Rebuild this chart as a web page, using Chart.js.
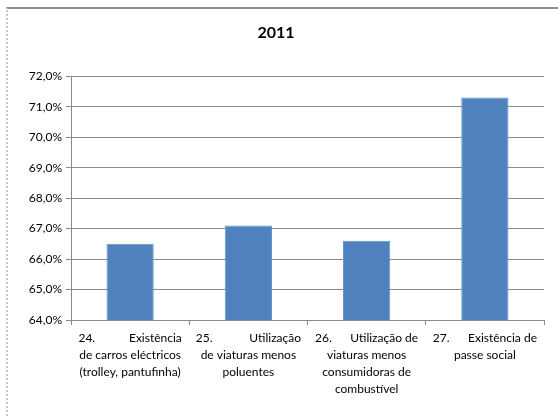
<!DOCTYPE html>
<html>
<head>
<meta charset="utf-8">
<script src="https://cdn.jsdelivr.net/npm/chart.js@4.4.1/dist/chart.umd.min.js"></script>
<style>
  html, body { margin: 0; padding: 0; background: #fff; }
  #wrap { position: relative; width: 558px; height: 416px; }
  #frame {
    position: absolute; left: 6px; top: 7px; right: 0; bottom: 0;
    border-top: 2px solid #8c8c8c; border-left: 2px dotted #c8c8c8;
    pointer-events: none;
  }
  canvas { position: absolute; left: 0; top: 0; }
</style>
</head>
<body>
<div id="wrap">
  <canvas id="c" width="558" height="416"></canvas>
  <div id="frame"></div>
</div>
<script>
// Survey items (each label: first line is "number + first word", justified across the slot)
const itemNumbers = ['24.', '25.', '26.', '27.'];
const itemFirstWords = ['Existência', 'Utilização', 'Utilização de', 'Existência de'];
const itemRestLines = [
  ['de carros eléctricos', '(trolley, pantufinha)'],
  ['de viaturas menos', 'poluentes'],
  ['viaturas menos', 'consumidoras de', 'combustível'],
  ['passe social']
];
const shares = [66.5, 67.1, 66.6, 71.3];
const yTicks = [64, 65, 66, 67, 68, 69, 70, 71, 72];

const FONT_FAMILY = 'Lato, "Open Sans", sans-serif';
const LABEL_SIZE = 12;
const LABEL_FONT = LABEL_SIZE + 'px ' + FONT_FAMILY;

// pad with spaces so "24.   Existência" fills the given width (justified line)
const measureCtx = document.createElement('canvas').getContext('2d');
measureCtx.font = LABEL_FONT;
function justify(left, right, width) {
  let gap = ' ';
  while (measureCtx.measureText(left + gap + ' ' + right).width <= width) gap += ' ';
  return left + gap + right;
}

const labels = itemNumbers.map((n, i) => [justify(n, itemFirstWords[i], 106)].concat(itemRestLines[i]));

const GRID = '#8a8a8a';

new Chart(document.getElementById('c'), {
  type: 'bar',
  data: {
    labels: labels,
    datasets: [{
      data: shares,
      backgroundColor: '#4f81bd',
      borderColor: '#6a95c9',
      borderWidth: 1,
      categoryPercentage: 1,
      barPercentage: 0.4
    }]
  },
  options: {
    responsive: false,
    animation: false,
    layout: { padding: { left: 8, right: 14, top: 0, bottom: 0 } },
    plugins: {
      legend: { display: false },
      tooltip: { enabled: false },
      title: {
        display: true,
        text: '2011',
        color: '#000',
        font: { family: FONT_FAMILY, size: 16, weight: 'bold' },
        padding: { top: 23, bottom: 34 }
      }
    },
    scales: {
      x: {
        grid: { display: true, drawOnChartArea: false, drawTicks: true, tickLength: 5, color: GRID, offset: true },
        border: { display: true, color: GRID, width: 1 },
        ticks: {
          color: '#000',
          font: { family: FONT_FAMILY, size: LABEL_SIZE, lineHeight: 1.4 },
          maxRotation: 0,
          autoSkip: false,
          padding: 5
        },
        afterFit: (s) => { s.height = 96; }
      },
      y: {
        min: 64,
        max: 72,
        afterBuildTicks: (s) => { s.ticks = yTicks.map(v => ({ value: v })); },
        grid: { color: GRID, lineWidth: 1, drawTicks: true, tickLength: 5 },
        border: { display: true, color: GRID, width: 1 },
        ticks: {
          color: '#000',
          font: { family: FONT_FAMILY, size: LABEL_SIZE },
          padding: 4,
          callback: (v) => v.toFixed(1).replace('.', ',') + '%'
        },
        afterFit: (s) => { s.width = 63; }
      }
    }
  }
});
</script>
</body>
</html>
